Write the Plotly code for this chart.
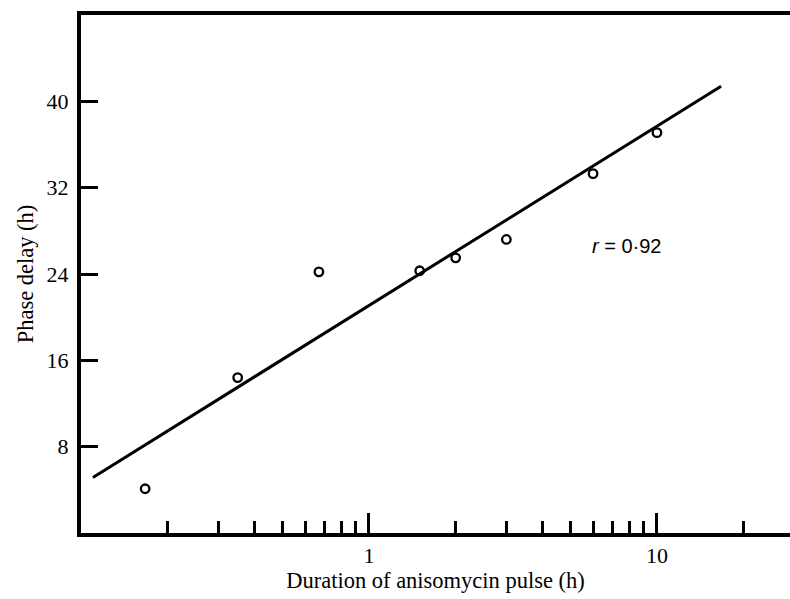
import plotly.graph_objects as go

# Pulse duration (h) and measured phase delay (h)
duration = [0.167, 0.35, 0.67, 1.5, 2.0, 3.0, 6.0, 10.0]
delay = [4.1, 14.4, 24.2, 24.3, 25.5, 27.2, 33.3, 37.1]

# Regression line end points
fit_x = [0.11, 16.7]
fit_y = [5.15, 41.4]

y_ticks = [8, 16, 24, 32, 40]
x_major = [1, 10]
x_minor = [0.2, 0.3, 0.4, 0.5, 0.6, 0.7, 0.8, 0.9, 2, 3, 4, 5, 6, 7, 8, 9, 20]

serif = "Liberation Serif"
sans = "Liberation Sans"

fig = go.Figure()
fig.add_trace(go.Scatter(
    x=fit_x, y=fit_y, mode="lines",
    line=dict(color="black", width=3),
    showlegend=False, hoverinfo="skip",
))
fig.add_trace(go.Scatter(
    x=duration, y=delay, mode="markers",
    marker=dict(symbol="circle-open", size=8.5, color="black", line=dict(width=2.3)),
    showlegend=False,
))

fig.add_annotation(
    x=0.897, y=26.6, xref="x", yref="y",
    text="<i>r</i> = 0·92", showarrow=False,
    font=dict(family=sans, size=20, color="black"),
)

fig.update_xaxes(
    type="log", range=[-1, 1.462],
    showline=True, linecolor="black", linewidth=4, mirror=True,
    showgrid=False, zeroline=False,
    tickmode="array", tickvals=x_major, ticktext=["1", "10"],
    ticks="inside", ticklen=20, tickwidth=3, tickcolor="black",
    minor=dict(tickvals=x_minor, ticks="inside", ticklen=12, tickwidth=2.5,
               tickcolor="black", showgrid=False),
    tickfont=dict(family=serif, size=22, color="black"),
    title=dict(text="Duration of anisomycin pulse (h)",
               font=dict(family=serif, size=22.5, color="black"), standoff=4),
)
fig.update_yaxes(
    range=[0, 48],
    showline=True, linecolor="black", linewidth=4, mirror=False,
    showgrid=False, zeroline=False,
    tickmode="array", tickvals=y_ticks,
    ticks="inside", ticklen=17, tickwidth=3, tickcolor="black",
    tickfont=dict(family=serif, size=22, color="black"),
    ticklabelstandoff=4,
    title=dict(text="Phase delay (h)",
               font=dict(family=serif, size=22.5, color="black"), standoff=8),
)

fig.update_layout(
    width=790, height=599,
    margin=dict(l=81, r=0, t=15, b=66),
    paper_bgcolor="white", plot_bgcolor="white",
)

fig.write_html("out.html")
